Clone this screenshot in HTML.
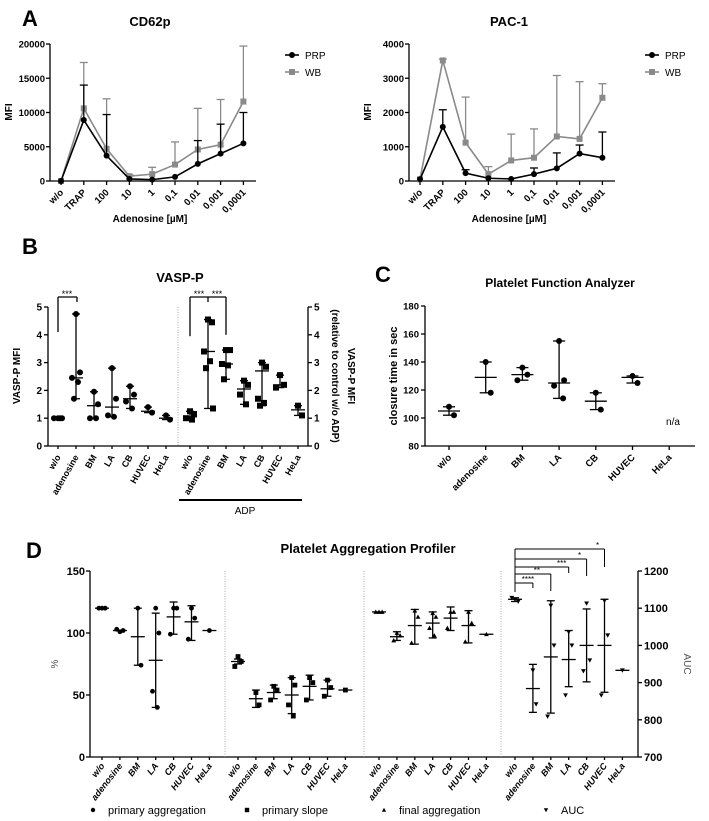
<!DOCTYPE html>
<html><head><meta charset="utf-8"><style>
body{margin:0;background:#fff}
svg{display:block;font-family:"Liberation Sans",sans-serif}
</style></head><body>
<svg id="fig" width="709" height="821" viewBox="0 0 709 821" xmlns="http://www.w3.org/2000/svg"></svg>
<script>
// ---------- Panel A data ----------
const aCats = ['w/o','TRAP','100','10','1','0,1','0,01','0,001','0,0001'];
const cdPrp = [0,8900,3700,300,200,600,2500,4000,5500];
const cdPrpErr = [0,14000,9700,300,200,600,5900,8300,10000];
const cdWb = [0,10600,4700,700,1000,2400,4600,5300,11600];
const cdWbErr = [0,17300,12000,900,2000,5700,10600,11900,19700];
const cdTicks = [0,5000,10000,15000,20000];
const pacPrp = [50,1580,230,80,60,200,370,800,680];
const pacPrpErr = [50,2080,330,80,60,380,820,1050,1430];
const pacWb = [50,3520,1120,200,600,680,1300,1230,2430];
const pacWbErr = [50,3560,2450,420,1370,1520,3080,2900,2840];
const pacTicks = [0,1000,2000,3000,4000];
// ---------- Panel B data ----------
const bCats = ['w/o','adenosine','BM','LA','CB','HUVEC','HeLa'];
const bLeftPts = [[1,1,1,1],[4.75,2.65,2.45,2.3,1.7],[1.95,1.5,1.0,1.0],[2.8,1.7,1.1,1.05],[2.15,1.85,1.6,1.35],[1.4,1.2],[1.1,0.95]];
const bLeftMed = [1,2.45,1.45,1.4,1.7,1.25,1.0];
const bRightPts = [[1.25,1.15,1.0,0.95],[4.55,4.45,3.4,3.05,2.8,1.35],[3.45,3.45,2.95,2.9,2.4],[2.35,2.2,1.85,1.5],[3.0,2.85,1.7,1.55,1.45],[2.55,2.2,2.1],[1.45,1.1]];
const bRightMed = [1.05,3.4,2.95,2.05,2.7,2.2,1.3];
const bTicks = [0,1,2,3,4,5];
// ---------- Panel C data ----------
const cCats = ['w/o','adenosine','BM','LA','CB','HUVEC','HeLa'];
const cPts = [[108,102],[140,118],[136,131,127],[155,127,123,114],[118,106],[130,125],[]];
const cMean = [105,129,131,125,112,129,null];
const cLo = [102,118,127,114,106,125,null];
const cHi = [108,140,136,155,118,130,null];
const cTicks = [80,100,120,140,160,180];
// ---------- Panel D data ----------
const dCats = ['w/o','adenosine','BM','LA','CB','HUVEC','HeLa'];
const dAggPts = [[120,120,120],[101,102,103],[120,74],[120,100,53,40],[120,120,99],[120,112,95],[102]];
const dAggMean = [120,102,97,78,113,109,102];
const dAggLo = [120,102,74,40,99,94,102];
const dAggHi = [120,102,120,116,125,122,102];
const dSlopePts = [[81,77,73],[52,42],[57,54,46],[64,58,42,33],[64,60,46],[62,56,49],[54]];
const dSlopeMean = [77,47,52,50,57,55,54];
const dSlopeLo = [75,40,47,35,46,49,54];
const dSlopeHi = [79,54,58,64,66,62,54];
const dFinalPts = [[117,117,117],[100,98,94],[118,113,92],[116,113,104,98],[117,117,104],[117,108,93],[99]];
const dFinalMean = [117,97,106,108,112,106,99];
const dFinalLo = [117,94,91,96,102,92,99];
const dFinalHi = [117,101,119,117,121,118,99];
const dAucPts = [[1124,1118,1128],[933,842],[1107,1000,809],[1036,1000,866],[1113,960,931],[1120,1027,866],[933]];
const dAucMean = [1124,884,969,962,1000,1000,933];
const dAucLo = [1118,820,818,889,902,874,933];
const dAucHi = [1128,949,1120,1040,1098,1124,933];
const pTicks = [0,50,100,150];
const aucTicks = [700,800,900,1000,1100,1200];

const S = document.getElementById('fig');
const NS = 'http://www.w3.org/2000/svg';
function mk(tag, attrs, name, parent){
  const el = document.createElementNS(NS, tag);
  for (const k in attrs) el.setAttribute(k, attrs[k]);
  
  
  (parent||S).appendChild(el);
  return el;
}
function ln(x1,y1,x2,y2,name,c,w,dash){
  const a={x1:x1,y1:y1,x2:x2,y2:y2,stroke:c||'#000','stroke-width':w||1.3};
  if(dash) a['stroke-dasharray']=dash;
  return mk('line',a,name);
}
function tx(x,y,s,name,o){
  o=o||{};
  const a={x:x,y:y,'font-size':o.size||10,'font-weight':o.weight||'bold','text-anchor':o.anchor||'middle',fill:o.fill||'#000'};
  if(o.rot!==undefined) a.transform='rotate('+o.rot+' '+x+' '+y+')';
  if(o.style) a['font-style']=o.style;
  const t=mk('text',a,name); t.textContent=s; return t;
}
function marker(type,x,y,sz,name,c){
  c=c||'#000';
  if(type==='c') return mk('circle',{cx:x,cy:y,r:sz,fill:c},name);
  if(type==='s') return mk('rect',{x:x-sz,y:y-sz,width:2*sz,height:2*sz,fill:c},name);
  if(type==='t') return mk('polygon',{points:(x)+','+(y-sz)+' '+(x-sz)+','+(y+sz*0.8)+' '+(x+sz)+','+(y+sz*0.8),fill:c},name);
  return mk('polygon',{points:(x)+','+(y+sz)+' '+(x-sz)+','+(y-sz*0.8)+' '+(x+sz)+','+(y-sz*0.8),fill:c},name);
}
const jit=[0,4,-4,2,-2,5];

// ---------- Panel A ----------
function drawA(ox, ymax, ticks, prp, prpE, wb, wbE, title, legX, key){
  const top=44, bot=181, step=22.8, x0=ox+11;
  const X=i=>x0+i*step, Y=v=>bot-(v/ymax)*(bot-top);
  tx(ox+100,26,title,key+'-title',{size:13});
  ln(ox,top,ox,bot,key+'-y-axis'); ln(ox,bot,ox+206,bot,key+'-x-axis');
  ticks.forEach(t=>{ln(ox-4,Y(t),ox,Y(t),key+'-y-tick');tx(ox-5,Y(t)+3.5,String(t),key+'-y-tick-label',{size:9.5,anchor:'end'});});
  aCats.forEach((c,i)=>{ln(X(i),bot,X(i),bot+4,key+'-x-tick');tx(X(i)+3,bot+12,c,key+'-x-tick-label',{size:9.5,anchor:'end',rot:-45});});
  tx(ox+100,222,'Adenosine [µM]',key+'-x-axis-title',{size:10});
  tx(ox-38,112,'MFI',key+'-y-axis-title',{size:10,rot:-90});
  const series=[[wb,wbE,'#8a8a8a','s','wb'],[prp,prpE,'#000','c','prp']];
  series.forEach(([v,e,c,m,n])=>{
    v.forEach((val,i)=>{ if(e[i]>val){ln(X(i),Y(val),X(i),Y(e[i]),key+'-'+n+'-error-bar',c,1.3);ln(X(i)-4,Y(e[i]),X(i)+4,Y(e[i]),key+'-'+n+'-error-cap',c,1.3);} });
    mk('polyline',{points:v.map((val,i)=>X(i)+','+Y(val)).join(' '),fill:'none',stroke:c,'stroke-width':1.6},key+'-'+n+'-line');
    v.forEach((val,i)=>marker(m,X(i),Y(val),3,key+'-'+n+'-point',c));
  });
  ln(legX,55,legX+14,55,key+'-legend-prp-line','#000',1.6);marker('c',legX+7,55,3,key+'-legend-prp-marker');
  tx(legX+20,59,'PRP',key+'-legend-prp',{size:10,weight:'normal',anchor:'start'});
  ln(legX,72,legX+14,72,key+'-legend-wb-line','#8a8a8a',1.6);marker('s',legX+7,72,3,key+'-legend-wb-marker','#8a8a8a');
  tx(legX+20,76,'WB',key+'-legend-wb',{size:10,weight:'normal',anchor:'start'});
}
tx(30,26,'A','panel-a-label',{size:22});
drawA(50,20000,cdTicks,cdPrp,cdPrpErr,cdWb,cdWbErr,'CD62p',285,'cd62p');
drawA(409,4000,pacTicks,pacPrp,pacPrpErr,pacWb,pacWbErr,'PAC-1',645,'pac1');

// ---------- Panel B ----------
(function(){
  const top=307, bot=446, lx=48, rx=308;
  const Y=v=>bot-(v/5)*(bot-top);
  tx(30,254,'B','panel-b-label',{size:22});
  tx(180,282,'VASP-P','vasp-title',{size:13});
  ln(lx,top,lx,bot,'vasp-left-y-axis');ln(rx,top,rx,bot,'vasp-right-y-axis');ln(lx,bot,rx,bot,'vasp-x-axis');
  ln(178,top,178,bot,'vasp-divider','#999',0.8,'1,1.5');
  bTicks.forEach(t=>{ln(lx-4,Y(t),lx,Y(t),'vasp-left-tick');tx(lx-6,Y(t)+3.5,String(t),'vasp-left-tick-label',{size:10,anchor:'end'});
    ln(rx,Y(t),rx+4,Y(t),'vasp-right-tick');tx(rx+6,Y(t)+3.5,String(t),'vasp-right-tick-label',{size:10,anchor:'start'});});
  tx(20,376,'VASP-P MFI','vasp-left-y-title',{size:10,rot:-90});
  tx(348,376,'VASP-P MFI','vasp-right-y-title',{size:10,rot:90});
  tx(332,376,'(relative to control w/o ADP)','vasp-right-y-subtitle',{size:10,rot:90});
  const groups=[[58,bLeftPts,bLeftMed,'c','left'],[190,bRightPts,bRightMed,'s','right']];
  groups.forEach(([x0,pts,med,m,n])=>{
    bCats.forEach((c,i)=>{
      const x=x0+i*18;
      ln(x,bot,x,bot+3,'vasp-x-tick');
      tx(x+3,bot+11,c,'vasp-x-tick-label',{size:9,anchor:'end',rot:-60});
      const mn=Math.min(...pts[i]),mx=Math.max(...pts[i]);
      if(mx>mn){ln(x,Y(mn),x,Y(mx),'vasp-'+n+'-range');ln(x-4,Y(mn),x+4,Y(mn),'vasp-'+n+'-cap');ln(x-4,Y(mx),x+4,Y(mx),'vasp-'+n+'-cap');}
      ln(x-7,Y(med[i]),x+7,Y(med[i]),'vasp-'+n+'-median');
      pts[i].forEach((v,j)=>marker(m,x+jit[j],Y(v),3,'vasp-'+n+'-point'));
    });
  });
  ln(58,Y(4.1),58,297,'vasp-sig-bracket');ln(58,297,77,297,'vasp-sig-bracket');ln(77,297,77,302,'vasp-sig-bracket');
  tx(67,297,'***','vasp-sig-stars',{size:9,weight:'normal'});
  ln(190,Y(3.95),190,297,'vasp-sig-bracket');ln(190,297,226,297,'vasp-sig-bracket');ln(226,297,226,Y(4.0),'vasp-sig-bracket');ln(208,297,208,302,'vasp-sig-bracket');
  tx(199,297,'***','vasp-sig-stars',{size:9,weight:'normal'});tx(217,297,'***','vasp-sig-stars',{size:9,weight:'normal'});
  ln(179,500,302,500,'adp-bar','#000',2);
  tx(245,514,'ADP','adp-label',{size:10,weight:'normal'});
})();

// ---------- Panel C ----------
(function(){
  const top=306, bot=446, ox=425;
  const Y=v=>bot-((v-80)/100)*(bot-top);
  tx(383,282,'C','panel-c-label',{size:22});
  tx(560,287,'Platelet Function Analyzer','pfa-title',{size:12});
  ln(ox,top,ox,bot,'pfa-y-axis');ln(ox,bot,695,bot,'pfa-x-axis');
  cTicks.forEach(t=>{ln(ox-4,Y(t),ox,Y(t),'pfa-y-tick');tx(ox-6,Y(t)+3.5,String(t),'pfa-y-tick-label',{size:9.5,anchor:'end'});});
  tx(397,376,'closure time in sec','pfa-y-title',{size:11,rot:-90});
  cCats.forEach((c,i)=>{
    const x=449+i*36.7;
    ln(x,bot,x,bot+4,'pfa-x-tick');
    tx(x+3,bot+12,c,'pfa-x-tick-label',{size:9.5,anchor:'end',rot:-45});
    if(cMean[i]!==null){
      ln(x,Y(cLo[i]),x,Y(cHi[i]),'pfa-range');ln(x-6,Y(cLo[i]),x+6,Y(cLo[i]),'pfa-cap');ln(x-6,Y(cHi[i]),x+6,Y(cHi[i]),'pfa-cap');
      ln(x-11,Y(cMean[i]),x+11,Y(cMean[i]),'pfa-mean');
      cPts[i].forEach((v,j)=>marker('c',x+[0,5,-5,4][j],Y(v),3,'pfa-point'));
    }
  });
  tx(673,425,'n/a','pfa-na-label',{size:10,weight:'normal'});
})();

// ---------- Panel D ----------
(function(){
  const top=571, bot=757, lx=90, rx=638, step=17.9;
  const Y=v=>bot-(v/150)*(bot-top), YA=v=>bot-((v-700)/500)*(bot-top);
  tx(34,558,'D','panel-d-label',{size:22});
  tx(368,553,'Platelet  Aggregation Profiler','pap-title',{size:13});
  ln(lx,top,lx,bot,'pap-left-y-axis');ln(rx,top,rx,bot,'pap-right-y-axis');ln(lx,bot,rx,bot,'pap-x-axis');
  [225,364,501].forEach(x=>ln(x,top,x,bot,'pap-divider','#999',0.8,'1,1.5'));
  pTicks.forEach(t=>{ln(lx-4,Y(t),lx,Y(t),'pap-left-tick');tx(lx-5,Y(t)+4,String(t),'pap-left-tick-label',{size:11,anchor:'end'});});
  aucTicks.forEach(t=>{ln(rx,YA(t),rx+4,YA(t),'pap-right-tick');tx(rx+6,YA(t)+4,String(t),'pap-right-tick-label',{size:11,anchor:'start'});});
  tx(58,664,'%','pap-left-y-title',{size:10,weight:'normal',fill:'#555',rot:-90});
  tx(684,664,'AUC','pap-right-y-title',{size:10,weight:'normal',fill:'#555',rot:90});
  const groups=[[102,dAggPts,dAggMean,dAggLo,dAggHi,'c',Y,'agg'],[238,dSlopePts,dSlopeMean,dSlopeLo,dSlopeHi,'s',Y,'slope'],
    [379,dFinalPts,dFinalMean,dFinalLo,dFinalHi,'t',Y,'final'],[515,dAucPts,dAucMean,dAucLo,dAucHi,'v',YA,'auc']];
  groups.forEach(([x0,pts,mean,lo,hi,m,F,n])=>{
    dCats.forEach((c,i)=>{
      const x=x0+i*step;
      ln(x,bot,x,bot+3,'pap-x-tick');
      tx(x+3,bot+9,c,'pap-x-tick-label',{size:9,anchor:'end',rot:-52,style:'italic'});
      if(hi[i]>lo[i]){ln(x,F(lo[i]),x,F(hi[i]),'pap-'+n+'-range');ln(x-4,F(lo[i]),x+4,F(lo[i]),'pap-'+n+'-cap');ln(x-4,F(hi[i]),x+4,F(hi[i]),'pap-'+n+'-cap');}
      ln(x-7,F(mean[i]),x+7,F(mean[i]),'pap-'+n+'-mean');
      pts[i].forEach((v,j)=>marker(m,x+(pts[i].length>1?jit[j]:0)*0.8,F(v),2.4,'pap-'+n+'-point'));
    });
  });
  // significance brackets (AUC): [category index, line y, drop end y, stars]
  const sig=[[1,583,588,'****'],[2,574,591,'**'],[3,567,573,'***'],[4,559,576,'*'],[5,549,567,'*']];
  ln(515,549,515,592,'pap-sig-bracket','#000',1);
  sig.forEach(([k,y,y2,s])=>{const x=515+k*step;
    ln(515,y,x,y,'pap-sig-bracket','#000',1);ln(x,y,x,y2,'pap-sig-bracket','#000',1);
    tx(k<=2?(515+x)/2+4:x-7,y-1,s,'pap-sig-stars',{size:8,weight:'normal'});});
  const leg=[['c',93,'primary aggregation'],['s',247,'primary slope'],['t',384,'final aggregation'],['v',546,'AUC']];
  leg.forEach(([m,x,s])=>{marker(m,x,810,2.2,'legend-marker-'+m);tx(x+15,814,s,'legend-entry',{size:11,weight:'normal',anchor:'start'});});
})();
</script>
</body></html>
